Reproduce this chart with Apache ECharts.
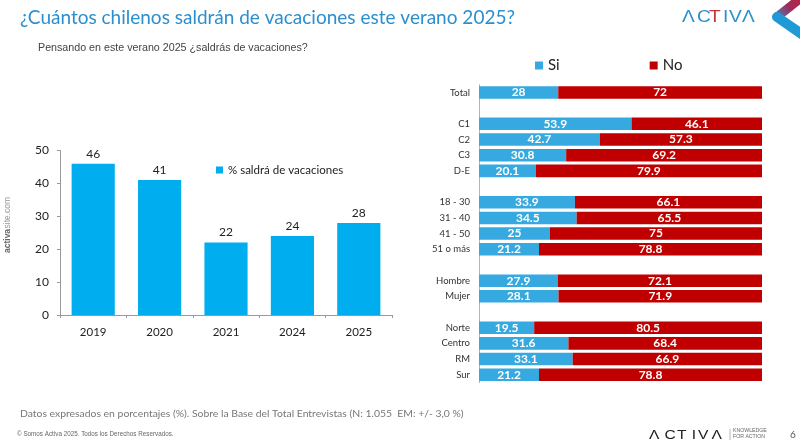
<!DOCTYPE html>
<html lang="es" style="height: 100%">
<head>
  <meta charset="utf-8">
</head>
<body style="height: 100%; margin: 0; background: #fff">
  <div id="container" style="width: 800px; height: 447px"></div>
  <script type="text/javascript" src="https://fastly.jsdelivr.net/npm/echarts@6/dist/echarts.min.js"></script>
  <script type="text/javascript">
    var years = ['2019', '2020', '2021', '2024', '2025'];
    var saldra = [46, 41, 22, 24, 28];

    // empty rows are the gaps between the groups
    var segments = ['Total', '', 'C1', 'C2', 'C3', 'D-E', '', '18 - 30', '31 - 40', '41 - 50', '51 o más', '', 'Hombre', 'Mujer', '', 'Norte', 'Centro', 'RM', 'Sur'];
    var si = [28, null, 53.9, 42.7, 30.8, 20.1, null, 33.9, 34.5, 25, 21.2, null, 27.9, 28.1, null, 19.5, 31.6, 33.1, 21.2];
    var no = [72, null, 46.1, 57.3, 69.2, 79.9, null, 66.1, 65.5, 75, 78.8, null, 72.1, 71.9, null, 80.5, 68.4, 66.9, 78.8];

    var font = 'Lato';
    var dom = document.getElementById('container');
    var myChart = echarts.init(dom, null, { renderer: 'canvas' });

    function text(x, y, str, size, color, family, extra) {
      return Object.assign({
        type: 'text', x: x, y: y, silent: true,
        style: { text: str, fontSize: size, fill: color, fontFamily: family || font, textVerticalAlign: 'middle' }
      }, extra || {});
    }

    // logo letters are spaced out by hand, graphic text has no tracking
    function logo(x0, y, size, scale, colors) {
      var letters = ['Λ', 'C', 'T', 'I', 'V', 'Λ'];
      var offsets = [0, 15, 27, 41, 47, 60];
      return letters.map(function (c, i) {
        return text(x0 + offsets[i] * scale, y, c, size, colors[i], 'Liberation Sans', { scaleX: 1.2 });
      });
    }

    var barLabel = {
      show: true, position: 'inside', color: '#fff', fontFamily: font, fontSize: 12, fontWeight: 'bold'
    };

    var blue = '#2a8fcf';
    var dark = '#222';

    var activa = text(8, 253, 'activa', 8.5, '#666', 'Liberation Sans', { rotation: Math.PI / 2 });
    activa.style.fontWeight = 'bold';

    var option = {
      animation: false,
      backgroundColor: '#fff',
      legend: [
        {
          data: ['% saldrá de vacaciones'], left: 211, top: 159, itemWidth: 7, itemHeight: 7, icon: 'rect',
          textStyle: { fontFamily: font, fontSize: 11.5, color: '#222' }, itemGap: 0
        },
        {
          data: ['Si', 'No'], left: 530, top: 53, itemWidth: 8, itemHeight: 8, icon: 'rect', itemGap: 90,
          textStyle: { fontFamily: font, fontSize: 15, color: '#222' }
        }
      ],
      grid: [
        { left: 60, top: 150.5, width: 332, height: 164.5 },
        { left: 479, top: 84.6, width: 283, height: 298 }
      ],
      xAxis: [
        {
          type: 'category', gridIndex: 0, data: years,
          axisLine: { lineStyle: { color: '#999' } },
          axisTick: { show: true, alignWithLabel: false, length: 3, lineStyle: { color: '#999' } },
          axisLabel: { color: '#222', fontFamily: font, fontSize: 11.5, margin: 11 }
        },
        { type: 'value', gridIndex: 1, min: 0, max: 100, show: false }
      ],
      yAxis: [
        {
          type: 'value', gridIndex: 0, min: 0, max: 50, interval: 10,
          splitLine: { show: false },
          axisLine: { show: true, lineStyle: { color: '#999' } },
          axisTick: { show: true, length: 3, lineStyle: { color: '#999' } },
          axisLabel: { color: '#222', fontFamily: font, fontSize: 12, margin: 11 }
        },
        {
          type: 'category', gridIndex: 1, data: segments, inverse: true,
          axisLine: { show: true, lineStyle: { color: '#b5b5b5', width: 1 } },
          axisTick: { show: false },
          axisLabel: { color: '#333', fontFamily: font, fontSize: 9.5, margin: 9, interval: 0 }
        }
      ],
      series: [
        {
          name: '% saldrá de vacaciones', type: 'bar', xAxisIndex: 0, yAxisIndex: 0, data: saldra,
          barWidth: '65%', itemStyle: { color: '#00adef' },
          label: { show: true, position: 'top', distance: 4, color: '#222', fontFamily: font, fontSize: 12 }
        },
        {
          name: 'Si', type: 'bar', stack: 'total', xAxisIndex: 1, yAxisIndex: 1, data: si,
          barWidth: '80%', itemStyle: { color: '#36a9e0' }, label: barLabel
        },
        {
          name: 'No', type: 'bar', stack: 'total', xAxisIndex: 1, yAxisIndex: 1, data: no,
          barWidth: '80%', itemStyle: { color: '#c00000' }, label: barLabel
        }
      ],
      graphic: [
        text(20, 18, '¿Cuántos chilenos saldrán de vacaciones este verano 2025?', 19, blue),
        text(38, 48, 'Pensando en este verano 2025 ¿saldrás de vacaciones?', 10.7, '#444', 'Liberation Sans'),
        text(20, 414, 'Datos expresados en porcentajes (%). Sobre la Base del Total Entrevistas (N: 1.055  EM: +/- 3,0 %)', 10.4, '#777'),
        text(17, 434, '© Somos Activa 2025. Todos los Derechos Reservados.', 6.3, '#666', 'Liberation Sans'),
        text(790, 435, '6', 10, '#555'),
        activa,
        text(8, 228.5, 'site.com', 8.5, '#999', 'Liberation Sans', { rotation: Math.PI / 2 }),
        text(733, 431, 'KNOWLEDGE', 5.2, '#666', 'Liberation Sans'),
        text(733, 437, 'FOR ACTION', 5.2, '#666', 'Liberation Sans'),
        {
          type: 'line', silent: true,
          shape: { x1: 730, y1: 429, x2: 730, y2: 440 },
          style: { stroke: '#999', lineWidth: 0.7 }
        },
        {
          type: 'polyline', silent: true,
          shape: { points: [[777, 17], [806, -6]] },
          style: {
            lineWidth: 9, fill: 'none',
            stroke: new echarts.graphic.LinearGradient(0, 1, 1, 0, [
              { offset: 0, color: '#2f9fd8' }, { offset: 0.45, color: '#a02a5a' }, { offset: 1, color: '#c8202f' }
            ])
          }
        },
        {
          type: 'polyline', silent: true,
          shape: { points: [[806, 37], [777, 17]] },
          style: { stroke: '#1f9ad6', lineWidth: 10, fill: 'none', lineCap: 'round' }
        }
      ].concat(
        logo(682, 18, 16, 1, [blue, blue, '#c8323c', blue, blue, blue]),
        logo(649, 435, 13, 1.04, [dark, dark, dark, dark, dark, dark])
      )
    };
    myChart.setOption(option);
    window.addEventListener('resize', myChart.resize);
  </script>
</body>
</html>
